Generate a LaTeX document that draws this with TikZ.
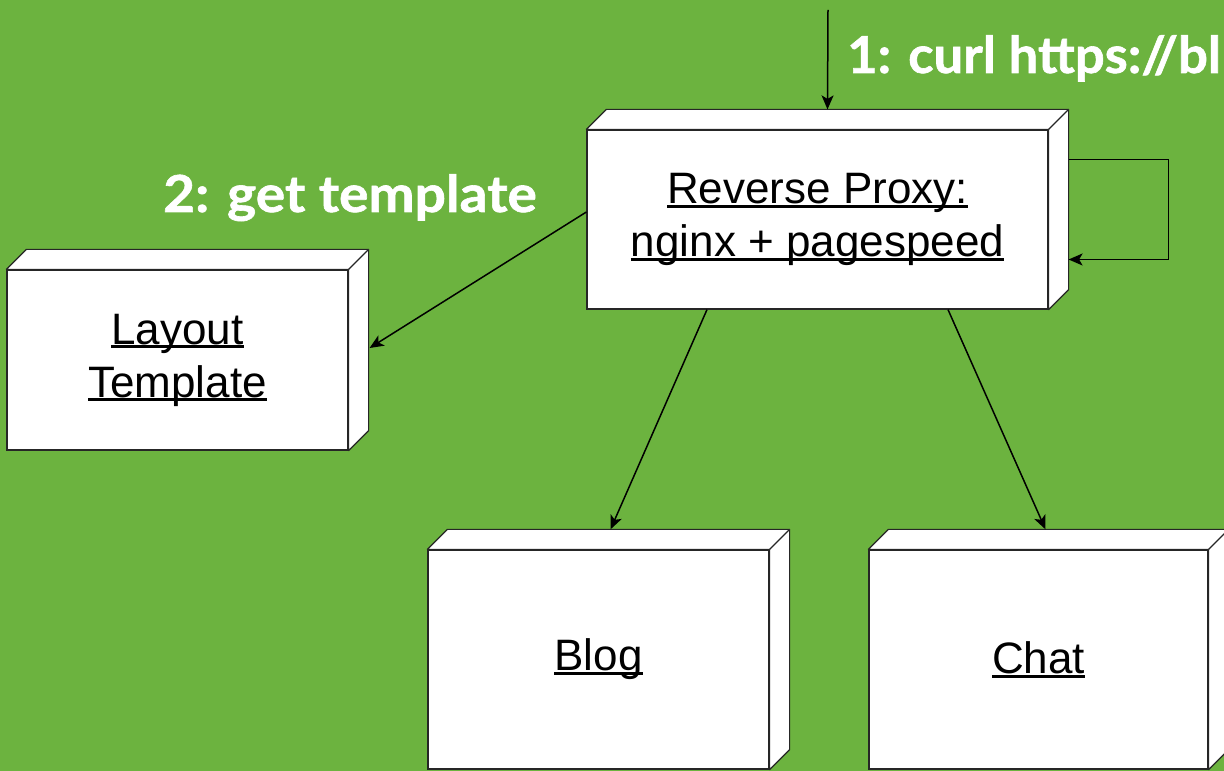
\documentclass[tikz,border=0pt]{standalone}
\usepackage{fontspec}
\usetikzlibrary{arrows.meta}
\newfontfamily\boxfont{Liberation Sans}
\newfontfamily\notefont{Lato}[FakeStretch=1.08,FakeBold=1.2]
\newfontfamily\notefontb{Lato}[FakeStretch=1.03,FakeBold=1.2]
\definecolor{bggreen}{RGB}{108,179,63}
\def\depth{20}
\newcommand\uln[1]{\leavevmode\setbox0\hbox{#1}\rlap{\rule[-0.1em]{\wd0}{0.07em}}\box0}
\tikzset{
  box/.style={draw=black!85,fill=white,line width=1.2pt,inner sep=0pt,
    align=center,font=\boxfont\fontsize{44}{53}\selectfont},
  face/.style={draw=black!85,fill=white,line width=1.2pt,line join=round},
  link/.style={-{Stealth[length=14pt,width=12pt,inset=3.5pt]},line width=1.5pt},
  note/.style={text=white,inner sep=0pt,font=\notefont\bfseries\fontsize{51}{60}\selectfont}
}
\begin{document}
\begin{tikzpicture}[x=1pt,y=1pt]
\fill[bggreen] (0,0) rectangle (1224,771);
\useasboundingbox (0,0) rectangle (1224,771);

\node[box,minimum width=461,minimum height=179] (proxy) at (817.5,551.5)
  {\uln{Reverse Proxy:}\\\uln{nginx + pagespeed}};
\node[box,minimum width=341,minimum height=180] (layout) at (177.5,411)
  {\uln{Layout}\\\uln{Template}};
\node[box,minimum width=341,minimum height=219] (blog) at (598.5,111.5) {\uln{Blog}};
\node[box,minimum width=339,minimum height=219] (chat) at (1038.5,111.5) {\uln{Chat}};

\foreach \n in {proxy,layout,blog,chat}{
  \draw[face] (\n.north west) -- ++(\depth,\depth)
    -- ([shift={(\depth,\depth)}]\n.north east)
    -- ([shift={(\depth,\depth)}]\n.south east)
    -- (\n.south east) -- (\n.north east) -- cycle;
  \draw[face] (\n.north east) -- ++(\depth,\depth);
}

\coordinate (curl) at (828,761);
\draw[link] (curl) -- ([shift={(10,20)}]proxy.north);
\node[note,font=\notefontb\bfseries\fontsize{51}{60}\selectfont,anchor=base west]
  (step1) at (847,698) {1: curl https://bl};

\draw[link] ([shift={(20,60)}]proxy.east) -- ++(100,0) |- ([shift={(20,-40)}]proxy.east);

\draw[link] ([yshift=7.5]proxy.west) -- ([shift={(21,12)}]layout.east);
\node[note,anchor=base west] (step2) at (163,559) {2: get template};

\draw[link] ([xshift=-110.5]proxy.south) -- ([shift={(12,20)}]blog.north);
\draw[link] ([xshift=130.5]proxy.south) -- ([shift={(7,20)}]chat.north);
\end{tikzpicture}
\end{document}
